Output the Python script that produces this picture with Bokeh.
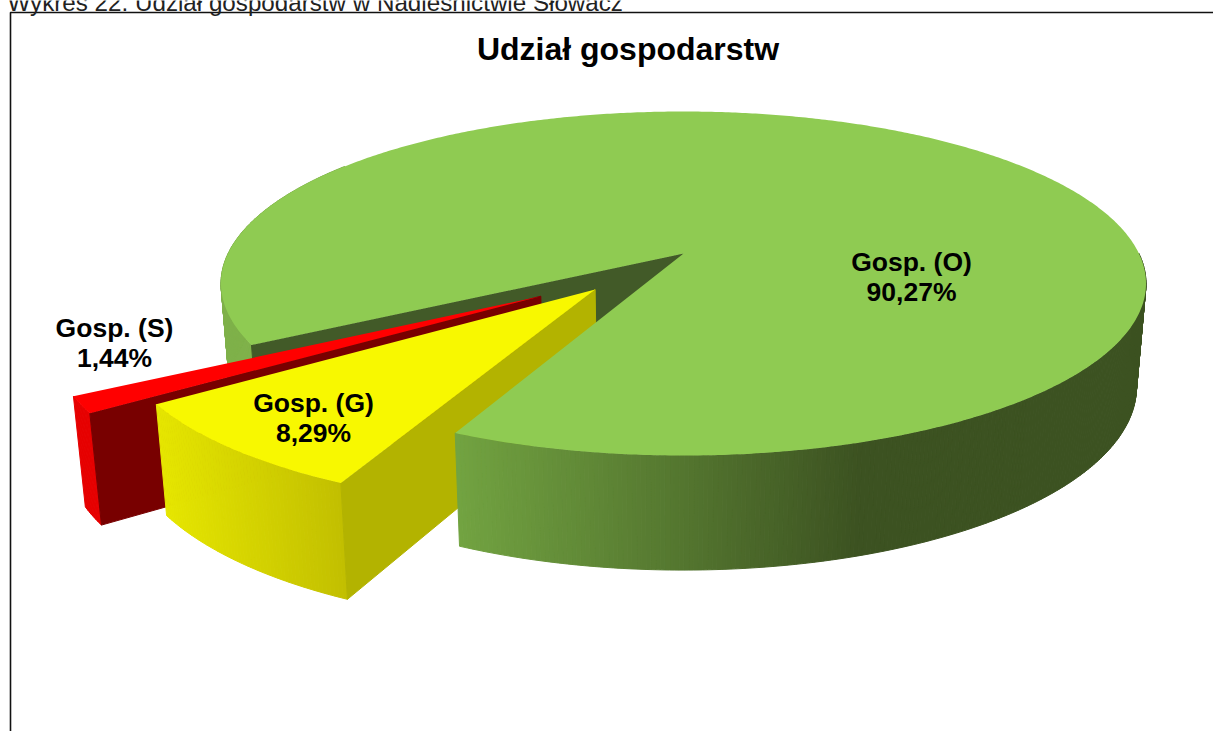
import math
from bokeh.plotting import figure
from bokeh.models import ColumnDataSource, Range1d
from bokeh.core.properties import value
from bokeh.embed import file_html
from bokeh.resources import INLINE

# ---- data
categories = ["Gosp. (O)", "Gosp. (G)", "Gosp. (S)"]
shares = [90.27, 8.29, 1.44]
share_labels = ["90,27%", "8,29%", "1,44%"]
title_text = "Udział gospodarstw"
caption_text = "Wykres 22. Udział gospodarstw w Nadleśnictwie Słowacz"

# ---- styling and 3D view of the pie
top_colors = ["#8fcb52", "#f8f800", "#ff0000"]
wall_colors = ["#425a28", "#b3b300", "#780000"]
side_from = ["#72a341", "#e6e600", "#e60000"]
side_to = ["#3c5221", "#c2bf00", "#e60000"]
back_side = "#7fb14a"
explode = [(0.0, 0.0), (-0.187, 0.2077), (-0.300, 0.2445)]
radius = [1.0, 0.995, 1.0]
label_xy = [(911, 276), (313, 417), (114, 342)]
START_DEG = 150.0          # where the big slice starts, clockwise on screen
CX, CY, RX, RY = 683.0, 283.0, 462.5, 172.0
PERSPECTIVE = -0.174


def project(u, v):
    d = 1 + PERSPECTIVE * v
    return (CX + RX * u * math.sqrt(1 - PERSPECTIVE ** 2) / d,
            CY + RY * (v + PERSPECTIVE) / d)


def lower(pt):
    return (0.98 * pt[0] + 13.4, 1.065 * pt[1] + 85.0)


def rim(a_deg, off, r):
    a = math.radians(a_deg)
    return project(r * math.cos(a) + off[0], r * math.sin(a) + off[1])


def mix(c1, c2, t):
    t = max(0.0, min(1.0, t))
    a = [int(c1[i:i + 2], 16) for i in (1, 3, 5)]
    b = [int(c2[i:i + 2], 16) for i in (1, 3, 5)]
    return "#%02x%02x%02x" % tuple(round(p + (q - p) * t) for p, q in zip(a, b))


p = figure(width=1213, height=731, output_backend="svg", toolbar_location=None,
           x_range=Range1d(0, 1213), y_range=Range1d(731, 0),
           min_border=0, outline_line_color=None,
           styles={"position": "absolute", "left": "0px", "top": "0px"})
p.xaxis.visible = False
p.yaxis.visible = False
p.grid.visible = False
p.background_fill_color = "#ffffff"
p.border_fill_color = "#ffffff"

# frame of the chart
p.line([1213, 10, 10], [12, 12, 731], line_color="#111111", line_width=1.6)


def draw(polys, colors, line=True):
    if not polys:
        return
    src = ColumnDataSource(dict(xs=[[q[0] for q in s] for s in polys],
                                ys=[[q[1] for q in s] for s in polys],
                                c=colors))
    p.patches("xs", "ys", source=src, fill_color="c",
              line_color="c" if line else None, line_width=1)


sweeps = [s / 100 * 360 for s in shares]
o_end = START_DEG + sweeps[0] - 360
spans = [(START_DEG, START_DEG + sweeps[0]),
         (o_end, o_end + sweeps[1]),
         (o_end + sweeps[1], o_end + sweeps[1] + sweeps[2])]


def slice_parts(i):
    a, b = spans[i]
    off, r = explode[i], radius[i]
    apex = project(*off)
    n = max(8, int((b - a) / 0.5))
    angs = [a + (b - a) * k / n for k in range(n + 1)]
    pts = [rim(t, off, r) for t in angs]
    if i == 0:
        xmin, xmax = pts[-1][0], 860.0
    else:
        xmin, xmax = min(q[0] for q in pts), max(q[0] for q in pts)
    strips = []
    for k in range(n):
        q0, q1 = pts[k], pts[k + 1]
        mid = 0.5 * (angs[k] + angs[k + 1])
        if math.sin(math.radians(mid)) < 0 and not (i == 0 and mid < 215):
            continue                # back of the pie, hidden by its top
        xm = 0.5 * (q0[0] + q1[0])
        if i == 0 and mid < 215:
            c = back_side
        else:
            c = mix(side_from[i], side_to[i], (xm - xmin) / max(1.0, xmax - xmin))
        strips.append(([q0, q1, lower(q1), lower(q0)], c, mid))
    return apex, pts, strips


# big slice: its back and the cut face lie behind the two pulled-out slices
apex0, pts0, strips0 = slice_parts(0)
draw([s[0] for s in strips0 if s[2] < 215], [s[1] for s in strips0 if s[2] < 215])
draw([[apex0, pts0[0], lower(pts0[0]), lower(apex0)]], [wall_colors[0]])

# red slice
apex, pts, strips = slice_parts(2)
draw([s[0] for s in strips], [s[1] for s in strips])
draw([[apex, pts[0], lower(pts[0]), lower(apex)]], [wall_colors[2]])
draw([[apex] + pts], [top_colors[2]], line=False)

# yellow slice
apex, pts, strips = slice_parts(1)
draw([s[0] for s in strips], [s[1] for s in strips])
draw([[apex, pts[0], lower(pts[0]), lower(apex)]], [wall_colors[1]])
draw([[apex] + pts], [top_colors[1]], line=False)

# front of the big slice and its top come last, over the yellow cut face
draw([s[0] for s in strips0 if s[2] >= 215], [s[1] for s in strips0 if s[2] >= 215])
draw([[apex0] + pts0], [top_colors[0]], line=False)

# texts
FONT = value("Liberation Sans")
p.text(x=[7], y=[2], text=[caption_text], text_font=FONT, text_font_size="24.2px",
       text_align="left", text_baseline="alphabetic", text_color="#222222")
p.text(x=[627.5], y=[48], text=[title_text], text_font=FONT, text_font_size="32px",
       text_font_style="bold", text_align="center", text_baseline="middle",
       text_color="#000000")
for (lx, ly), cat, lab in zip(label_xy, categories, share_labels):
    p.text(x=[lx], y=[ly - 15], text=[cat], text_font=FONT, text_font_size="26.5px",
           text_font_style="bold", text_align="center", text_baseline="middle",
           text_color="#000000")
    p.text(x=[lx], y=[ly + 15], text=[lab], text_font=FONT, text_font_size="26.5px",
           text_font_style="bold", text_align="center", text_baseline="middle",
           text_color="#000000")

open("out.html", "w").write(file_html(p, INLINE))
